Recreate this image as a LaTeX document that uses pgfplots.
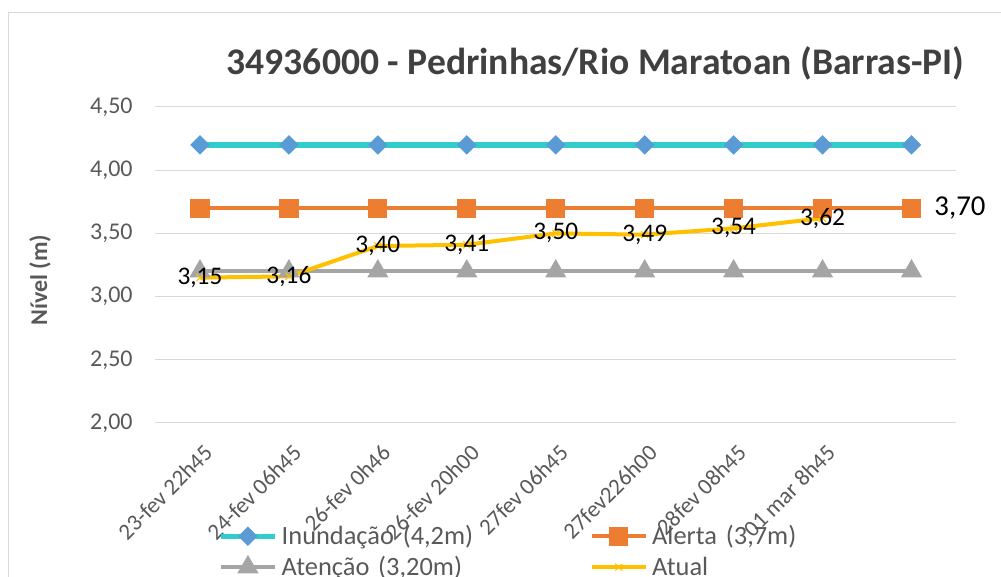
\documentclass[border=0pt]{standalone}
\usepackage{fontspec}
\setmainfont{Carlito}
\usepackage{pgfplots}
\pgfplotsset{compat=1.18}

\definecolor{gridc}{HTML}{D9D9D9}
\definecolor{txt}{HTML}{595959}
\definecolor{ttl}{HTML}{404040}
\definecolor{inund}{HTML}{33CCCC}
\definecolor{inundm}{HTML}{5B9BD5}
\definecolor{alerta}{HTML}{ED7D31}
\definecolor{atenc}{HTML}{A5A5A5}
\definecolor{atual}{HTML}{FFC000}

% labels: 2 decimals, comma
\newcommand{\nivel}[1]{\pgfmathprintnumber[fixed,fixed zerofill,precision=2,use comma,assume math mode=true]{#1}}

\begin{document}
\begin{tikzpicture}
\path[use as bounding box] (0,0) rectangle (750.75pt,432.75pt);
% chart area border (only left and top are inside the crop)
\draw[gridc, line width=0.75pt] (6pt,-5pt) -- (6pt,423pt) -- (760pt,423pt);
\begin{axis}[
  at={(116.625pt,115.5pt)}, anchor=south west,
  scale only axis, width=600.375pt, height=237pt,
  xmin=-0.5, xmax=8.5, ymin=2, ymax=4.5,
  ytick={2,2.5,3,3.5,4,4.5},
  xtick={0,1,2,3,4,5,6,7,8},
  xticklabels={23-fev 22h45, 24-fev 06h45, 26-fev 0h46, 26-fev 20h00, 27fev 06h45, 27fev226h00, 28fev 08h45, 01 mar 8h45, {}},
  yticklabel={\nivel{\tick}},
  ymajorgrids, grid style={gridc, line width=0.75pt},
  axis line style={draw=none}, major tick length=0pt,
  clip=false,
  yticklabel style={anchor=east, inner sep=0pt, xshift=-17pt, font=\fontsize{18pt}{20pt}\selectfont, text=txt},
  xticklabel style={xshift=2pt, yshift=-15pt, rotate=45, anchor=north east, inner sep=0pt, font=\fontsize{17.25pt}{20pt}\selectfont, text=txt},
  title={34936000 - Pedrinhas/Rio Maratoan (Barras-PI)},
  title style={at={(axis description cs:0.5497,1.076)}, anchor=base, inner sep=0pt, font=\bfseries\fontsize{28.2pt}{32pt}\selectfont, text=ttl},
  ylabel={Nível (m)},
  ylabel style={at={(axis description cs:-0.1443,0.4525)}, anchor=center, inner sep=0pt, font=\bfseries\fontsize{18pt}{20pt}\selectfont, text=txt},
  legend columns=2,
  legend cell align=left,
  legend image code/.code={
    \draw[mark repeat=2, mark phase=2, #1] plot coordinates {(0pt,0pt) (20.25pt,0pt) (40.5pt,0pt)};
    \path (42pt,0pt);
  },
  legend style={at={(axis description cs:0.0781,-0.3085)}, anchor=north west,
    draw=none, fill=none, inner sep=0pt, row sep=0pt, column sep=0pt,
    font=\fontsize{19.8pt}{24pt}\selectfont, text=txt,
    nodes={inner sep=1.6pt, text height=16pt, text depth=4pt, text width=229.25pt, align=left}},
]
\addplot[inund, line width=4pt, mark=square*, mark size=4.8pt,
  mark options={solid, rotate=45, fill=inundm, draw=inundm, line width=0.75pt}]
  coordinates {(0,4.2)(1,4.2)(2,4.2)(3,4.2)(4,4.2)(5,4.2)(6,4.2)(7,4.2)(8,4.2)};
\addlegendentry{Inundação (4,2m)}
\addplot[alerta, line width=3.4pt, mark=square*, mark size=5.5pt,
  mark options={solid, fill=alerta, draw=none}]
  coordinates {(0,3.7)(1,3.7)(2,3.7)(3,3.7)(4,3.7)(5,3.7)(6,3.7)(7,3.7)(8,3.7)};
\addlegendentry{Alerta (3,7m)}
\addplot[atenc, line width=3.2pt, mark=triangle*, mark size=6pt,
  mark options={solid, fill=atenc, draw=none}]
  coordinates {(0,3.2)(1,3.2)(2,3.2)(3,3.2)(4,3.2)(5,3.2)(6,3.2)(7,3.2)(8,3.2)};
\addlegendentry{Atenção (3,20m)}
\addplot[atual, line width=3pt, mark=x, mark size=3.75pt,
  mark options={solid, line width=0.75pt},
  nodes near coords={\nivel{\pgfplotspointmeta}},
  every node near coord/.append style={anchor=center, inner sep=0pt, text=black, font=\fontsize{19pt}{22pt}\selectfont}]
  coordinates {(0,3.15)(1,3.16)(2,3.40)(3,3.41)(4,3.50)(5,3.49)(6,3.54)(7,3.62)};
\addlegendentry{Atual}
% data label of the last Alerta point
\addplot[forget plot, draw=none, no marks,
  nodes near coords={\nivel{\pgfplotspointmeta}},
  every node near coord/.append style={anchor=west, inner sep=0pt, xshift=17pt, text=black, font=\fontsize{21.6pt}{24pt}\selectfont}]
  coordinates {(8,3.7)};
\end{axis}
\end{tikzpicture}
\end{document}
